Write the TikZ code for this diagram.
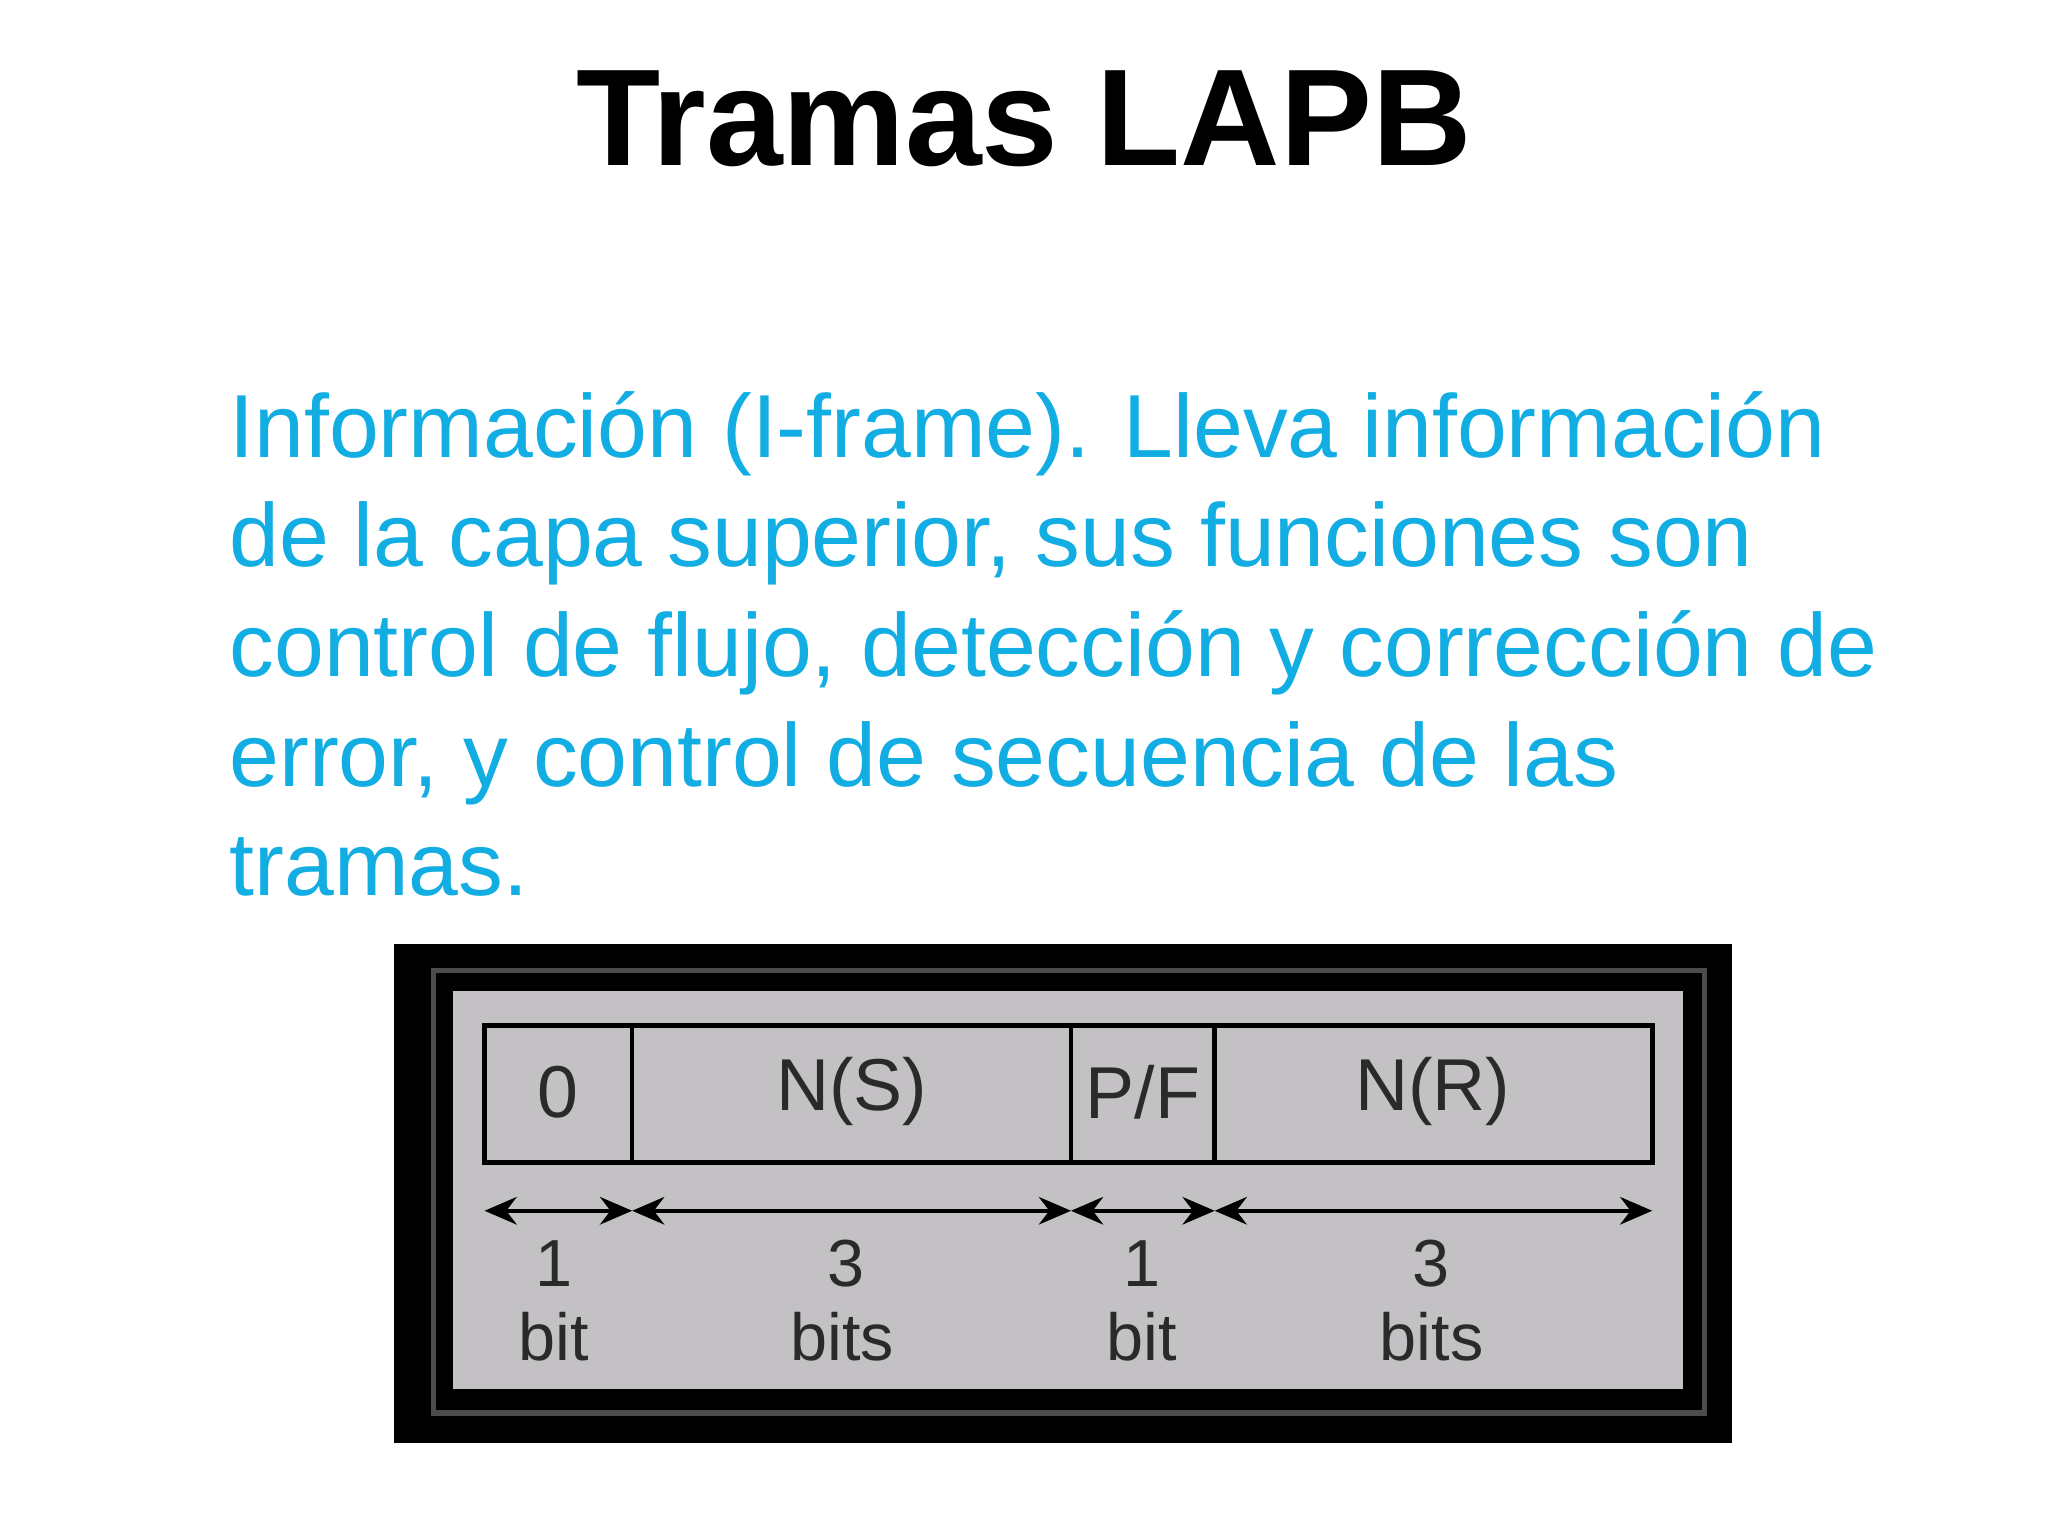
\documentclass[tikz,border=0pt]{standalone}
\usepackage{fontspec}
\setmainfont{Liberation Sans}
\usetikzlibrary{arrows.meta}
\definecolor{txtblue}{HTML}{12AEE3}
\definecolor{panel}{HTML}{C3C1C4}
\definecolor{ink}{HTML}{2A2A2A}
\begin{document}
\begin{tikzpicture}[x=0.01cm,y=-0.01cm,
  line/.style={font=\fontsize{19.5}{24}\selectfont,text=txtblue,anchor=base west,inner sep=0},
  fld/.style={font=\fontsize{16}{18}\selectfont,text=ink,anchor=center},
  lbl/.style={font=\fontsize{14.5}{17}\selectfont,text=ink,anchor=base},
  meas/.style={draw=black,line width=0.8pt,{Stealth[length=7pt,width=6pt]}-{Stealth[length=7pt,width=6pt]}}]
\useasboundingbox (0,0) rectangle (1568,1176);
\fill[white] (0,0) rectangle (1568,1176);
\node[font=\bfseries\fontsize{30}{34}\selectfont,anchor=base] (title) at (784,127) {Tramas LAPB};
\node[line] (l1) at (175,350) {Información (I-frame). Lleva información};
\node[line] (l2) at (175,434) {de la capa superior, sus funciones son};
\node[line] (l3) at (175,518) {control de flujo, detección y corrección de};
\node[line] (l4) at (175,602) {error, y control de secuencia de las};
\node[line] (l5) at (175,686) {tramas.};
% frame
\fill[black] (302,723) rectangle (1326,1105);
\draw[gray!60!black,line width=1.2pt] (332,743) rectangle (1305,1082);
\fill[panel] (345,757) rectangle (1290,1065);
\draw[black,line width=1pt] (345,757) rectangle (1290,1065);
% fields
\draw[black,line width=1pt] (371,785) rectangle (1265,890);
\foreach \x in {484,820,930} \draw[black,line width=1pt] (\x,785) -- (\x,890);
\node[fld] (f0) at (427,836) {0};
\node[fld] (f1) at (652,836) {N(S)};
\node[fld] (f2) at (875,836) {P/F};
\node[fld] (f3) at (1097,836) {N(R)};
\coordinate (a0) at (371,927);
\coordinate (a1) at (484,927);
\coordinate (a2) at (820,927);
\coordinate (a3) at (930,927);
\coordinate (a4) at (1265,927);
\draw[meas] (a0) -- (a1);
\draw[meas] (a1) -- (a2);
\draw[meas] (a2) -- (a3);
\draw[meas] (a3) -- (a4);
\node[lbl] (n0) at (424,985) {1};
\node[lbl] (n1) at (648,985) {3};
\node[lbl] (n2) at (874,985) {1};
\node[lbl] (n3) at (1096,985) {3};
\node[lbl] (b0) at (424,1042) {bit};
\node[lbl] (b1) at (645,1042) {bits};
\node[lbl] (b2) at (874,1042) {bit};
\node[lbl] (b3) at (1096,1042) {bits};
\end{tikzpicture}
\end{document}
